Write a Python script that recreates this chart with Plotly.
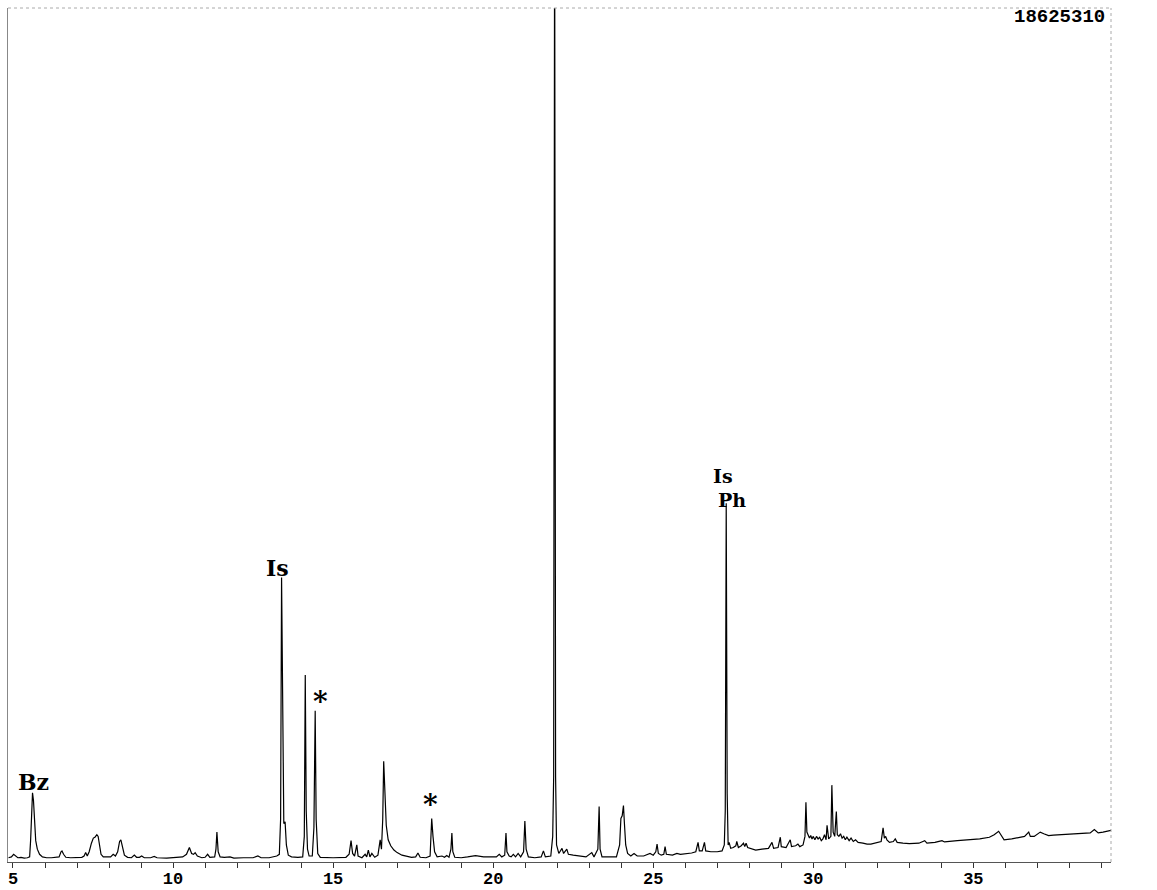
import plotly.graph_objects as go

# Retention time (min) and abundance (% of full scale 18625310)
rt = [
    4.86, 4.95, 5.02, 5.08, 5.15, 5.25, 5.35, 5.45,
    5.52, 5.55, 5.58, 5.61, 5.64, 5.67, 5.71, 5.76, 5.83, 5.92, 6.05, 6.20, 6.35,
    6.44, 6.50, 6.53, 6.58, 6.65, 6.80, 7.00, 7.15,
    7.22, 7.27, 7.32,
    7.38, 7.45, 7.51, 7.56, 7.62, 7.66, 7.70, 7.75, 7.82, 7.95, 8.05,
    8.13, 8.20, 8.27, 8.33, 8.37, 8.42, 8.48, 8.58, 8.70,
    8.79, 8.86, 8.95, 9.02, 9.10, 9.30, 9.41, 9.50, 9.80, 10.10, 10.30, 10.42,
    10.51, 10.58, 10.64, 10.69, 10.76, 10.90, 11.00, 11.08, 11.15, 11.30,
    11.34, 11.37, 11.41, 11.47, 11.60, 11.78, 11.90, 12.20, 12.50, 12.65, 12.75, 13.00, 13.24, 13.32,
    13.36, 13.39, 13.43, 13.46, 13.50, 13.54, 13.60, 13.70, 13.90, 14.05,
    14.10, 14.13, 14.16, 14.20, 14.25, 14.35, 14.40, 14.44, 14.47, 14.52, 14.60, 15.00, 15.40, 15.50,
    15.56, 15.61, 15.67, 15.74, 15.78, 15.90, 16.00, 16.05, 16.10, 16.15, 16.21, 16.30, 16.40,
    16.47, 16.51, 16.55, 16.58, 16.62, 16.66, 16.72, 16.80, 16.90, 17.00, 17.15, 17.30, 17.45, 17.58,
    17.65, 17.72, 17.90, 18.03,
    18.06, 18.08, 18.12, 18.17, 18.25, 18.40, 18.48, 18.55, 18.62, 18.68,
    18.71, 18.74, 18.80, 19.00, 19.20, 19.45, 19.70, 19.95, 20.10, 20.19, 20.27, 20.36,
    20.40, 20.43, 20.50, 20.56, 20.63, 20.70, 20.78, 20.86, 20.95,
    20.99, 21.03, 21.10, 21.30, 21.50, 21.57, 21.63, 21.80, 21.86,
    21.89, 21.92, 21.95, 21.98, 22.05, 22.15, 22.20, 22.30, 22.35, 22.50, 22.70, 22.90, 23.08, 23.15, 23.27,
    23.31, 23.34, 23.40, 23.60, 23.85, 23.95,
    23.99, 24.03, 24.07, 24.10, 24.14, 24.20, 24.30, 24.40, 24.50, 24.70, 24.90, 25.00, 25.08,
    25.12, 25.16, 25.25, 25.33, 25.37, 25.41, 25.60, 25.74, 25.85, 26.00, 26.20, 26.33,
    26.40, 26.44, 26.53, 26.60, 26.64, 26.80, 27.00, 27.15, 27.22,
    27.25, 27.28, 27.31, 27.34, 27.37, 27.42, 27.50, 27.58, 27.61, 27.66, 27.75, 27.82, 27.86, 27.90, 27.95,
    28.08, 28.20, 28.40, 28.60,
    28.71, 28.76, 28.90, 28.97, 29.00, 29.15, 29.28, 29.32, 29.45, 29.52, 29.58, 29.68, 29.74,
    29.77, 29.80, 29.84, 29.88, 29.92, 29.96, 30.00, 30.05, 30.10, 30.15, 30.20, 30.25, 30.30, 30.35,
    30.40, 30.43, 30.48, 30.55,
    30.58, 30.62, 30.67, 30.72, 30.75, 30.80, 30.85, 30.90, 30.95, 31.00, 31.05, 31.12, 31.18, 31.25,
    31.32, 31.40, 31.55, 31.68, 31.80, 31.95, 32.12,
    32.18, 32.22, 32.26, 32.30, 32.38, 32.50, 32.56, 32.62, 32.80, 33.00, 33.30, 33.48, 33.55, 33.80,
    34.02, 34.10, 34.50, 34.90, 35.20, 35.50, 35.65, 35.79, 35.88, 35.96, 36.20, 36.47, 36.60, 36.73,
    36.78, 36.90, 37.00, 37.09, 37.20, 37.35, 37.50, 37.80, 38.13, 38.40, 38.65, 38.78, 38.90, 39.05,
    39.20, 39.30,
]

abundance = [
    0.5, 0.6, 0.9, 0.7, 0.5, 0.55, 0.45, 0.5,
    0.6, 2.5, 6.5, 8.1, 7.2, 4.5, 2.5, 1.5, 0.9, 0.6, 0.5, 0.5, 0.55,
    0.6, 1.2, 1.3, 0.9, 0.55, 0.5, 0.5, 0.55,
    0.7, 1.1, 0.7,
    1.2, 2.2, 2.8, 2.9, 3.2, 3.0, 1.8, 0.9, 0.6, 0.55, 0.6,
    0.9, 0.7, 1.2, 2.4, 2.6, 1.6, 0.8, 0.55, 0.5,
    0.8, 0.55, 0.55, 0.7, 0.5, 0.5, 0.65, 0.5, 0.45, 0.5, 0.6, 0.9,
    1.7, 1.0, 0.9, 1.1, 0.7, 0.5, 0.55, 0.9, 0.55, 0.6,
    1.5, 3.5, 1.2, 0.6, 0.55, 0.6, 0.45, 0.5, 0.5, 0.7, 0.5, 0.5, 0.7, 0.9,
    5.0, 33.3, 10.0, 4.5, 4.7, 2.0, 0.8, 0.6, 0.55, 0.6,
    3.0, 21.9, 6.0, 1.5, 0.7, 0.7, 4.0, 17.7, 5.0, 1.0, 0.55, 0.5, 0.55, 0.9,
    2.5, 1.0, 0.7, 2.0, 0.7, 0.5, 0.9, 0.6, 1.4, 0.6, 1.0, 0.55, 0.8,
    2.6, 1.5, 5.0, 11.8, 7.5, 4.3, 2.6, 1.9, 1.4, 1.1, 0.8, 0.65, 0.55, 0.6,
    1.05, 0.55, 0.5, 0.7,
    2.5, 5.1, 3.0, 1.2, 0.6, 0.7, 0.55, 0.75, 0.55, 1.5,
    3.4, 1.2, 0.55, 0.5, 0.6, 0.75, 0.6, 0.55, 0.6, 0.9, 0.6, 0.8,
    3.4, 1.2, 0.7, 0.6, 0.9, 0.6, 1.0, 0.6, 1.2,
    4.8, 1.5, 0.6, 0.5, 0.6, 1.3, 0.6, 0.7, 3.0,
    10.0, 115.0, 10.0, 2.0, 1.0, 1.6, 1.0, 1.5, 0.9, 0.8, 0.7, 0.6, 1.1, 0.6, 1.5,
    6.5, 1.5, 0.6, 0.6, 0.6, 2.0,
    5.1, 5.4, 6.6, 4.5, 2.0, 1.0, 0.7, 1.0, 0.7, 0.7, 1.0, 0.8, 1.2,
    2.1, 1.0, 0.8, 0.9, 1.8, 0.9, 0.8, 1.0, 0.9, 0.95, 1.05, 1.2,
    2.3, 1.3, 1.3, 2.3, 1.3, 1.2, 1.2, 1.3, 2.0,
    6.0, 42.0, 8.0, 2.0, 2.3, 1.6, 1.7, 1.9, 2.4, 1.7, 1.9, 2.2, 1.8, 2.2, 1.7,
    1.5, 1.4, 1.5, 1.6,
    2.3, 1.6, 1.7, 2.9, 1.8, 1.7, 2.6, 1.8, 1.9, 2.1, 1.8, 2.0, 3.0,
    7.0, 3.5, 3.0, 2.8, 3.1, 2.7, 3.0, 2.6, 3.0, 2.7, 2.9, 2.5, 2.7, 3.2,
    2.6, 4.3, 2.7, 3.0,
    9.0, 3.5, 3.0, 5.9, 3.2, 3.0, 3.3, 2.8, 3.0, 2.6, 2.9, 2.5, 2.8, 2.4,
    2.6, 2.3, 2.2, 2.1, 2.1, 2.2, 2.4,
    4.0, 2.8, 3.0, 2.6, 2.3, 2.4, 2.7, 2.3, 2.2, 2.15, 2.2, 2.5, 2.2, 2.3,
    2.5, 2.35, 2.5, 2.6, 2.7, 2.9, 3.2, 3.6, 3.0, 2.6, 2.7, 2.9, 3.0, 3.5,
    3.0, 3.0, 3.3, 3.5, 3.3, 3.1, 3.15, 3.2, 3.3, 3.3, 3.4, 3.8, 3.4, 3.5,
    3.6, 3.7,
]

tick_vals = list(range(5, 40))
tick_text = [str(v) if v % 5 == 0 else "" for v in tick_vals]

full_scale_label = "18625310"
trace_label = "TIC"

# handwritten marks: text, retention time, abundance, font size
marks_text = ["Bz", "Is", "*", "*", "Is", "Ph"]
marks_rt = [5.63, 13.25, 14.62, 18.05, 27.18, 27.45]
marks_ab = [9.4, 34.4, 18.8, 6.7, 45.2, 42.4]
marks_size = [22, 22, 28, 28, 19, 19]

mono = "Liberation Mono"

fig = go.Figure()
fig.add_trace(go.Scatter(
    x=rt, y=abundance, mode="lines",
    line=dict(color="black", width=1.2),
    hoverinfo="x+y", showlegend=False,
))

annotations = []
for txt, x, y, s in zip(marks_text, marks_rt, marks_ab, marks_size):
    annotations.append(dict(
        x=x, y=y, xref="x", yref="y", text=f"<b>{txt}</b>", showarrow=False,
        font=dict(family="DejaVu Serif", size=s, color="black"),
    ))
annotations.append(dict(
    x=39.16, y=98.9, xref="x", yref="y", text=f"<b>{full_scale_label}</b>",
    showarrow=False, xanchor="right", yanchor="middle",
    font=dict(family=mono, size=19, color="black"),
))
annotations.append(dict(
    x=39.84, y=3.6, xref="x", yref="y", text=trace_label,
    showarrow=False, xanchor="left", yanchor="middle",
    font=dict(family=mono, size=17, color="black"),
))

fig.update_layout(
    width=1157, height=890,
    margin=dict(l=8, r=46, t=8, b=28, autoexpand=False),
    paper_bgcolor="white", plot_bgcolor="white",
    annotations=annotations,
    xaxis=dict(
        range=[4.844, 39.3], tickvals=tick_vals, ticktext=tick_text,
        ticks="outside", ticklen=5, tickcolor="#333", tickwidth=1,
        ticklabelstandoff=-4,
        showline=True, linecolor="#555", linewidth=1,
        showgrid=False, zeroline=False,
        tickfont=dict(family=mono, size=17, color="black", weight="bold"),
        automargin=False,
    ),
    yaxis=dict(
        range=[0, 100], showticklabels=False, ticks="",
        showline=True, linecolor="#888", linewidth=1,
        showgrid=False, zeroline=False, automargin=False,
    ),
    shapes=[
        dict(type="line", xref="paper", yref="paper", x0=0, x1=1, y0=1, y1=1,
             line=dict(color="#aaa", width=1, dash="dot")),
        dict(type="line", xref="paper", yref="paper", x0=1, x1=1, y0=0, y1=1,
             line=dict(color="#aaa", width=1, dash="dot")),
    ],
)

fig.write_html(
    "out.html",
    config={"displayModeBar": False},
    post_script="document.body.style.margin='0';document.body.style.overflow='hidden';",
)
